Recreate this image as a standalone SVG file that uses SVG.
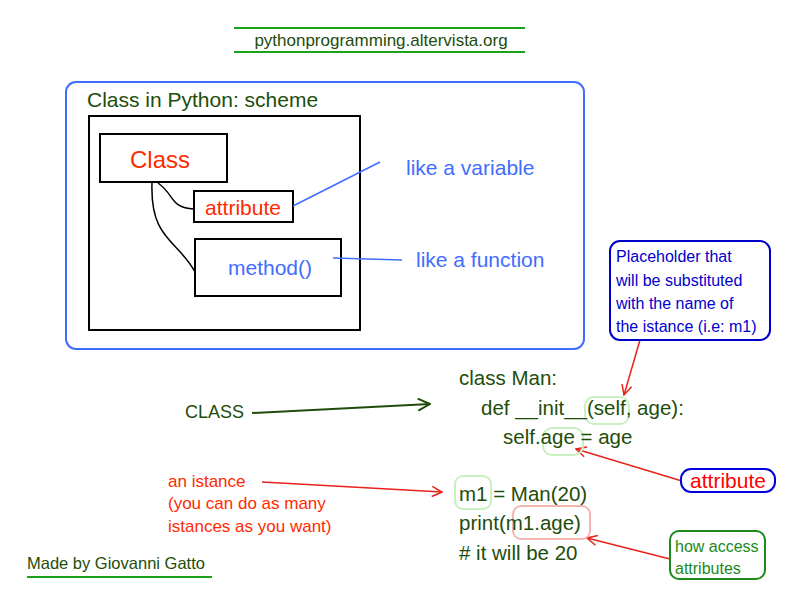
<svg xmlns="http://www.w3.org/2000/svg" width="800" height="600" viewBox="0 0 800 600">
<defs>
<style>
text{font-family:"Liberation Sans",Arial,sans-serif}
.g{fill:#1e4d0a}
.r{fill:#ff2a00}
.b{fill:#3f6dff}
.box{fill:none;stroke:#000;stroke-width:2}
.ln{fill:none;stroke:#000;stroke-width:1.5}
.bl{fill:none;stroke:#3f6dff;stroke-width:1.5}
</style>
<marker id="ar" viewBox="0 0 12 12" refX="11" refY="6" markerWidth="12" markerHeight="12" markerUnits="userSpaceOnUse" orient="auto"><path d="M1,1 L11,6 L1,11" fill="none" stroke="#e8231b" stroke-width="1.5"/></marker>
<marker id="ag" viewBox="0 0 14 14" refX="13" refY="7" markerWidth="14" markerHeight="14" markerUnits="userSpaceOnUse" orient="auto"><path d="M1,1 L13,7 L1,13" fill="none" stroke="#1e4d0a" stroke-width="2"/></marker>
</defs>
<rect width="800" height="600" fill="#fff"/>
<g id="header">
<line x1="234" y1="28" x2="525" y2="28" stroke="#1aa31a" stroke-width="2"/>
<line x1="234" y1="52" x2="525" y2="52" stroke="#1aa31a" stroke-width="2"/>
<text x="381" y="46" font-size="17" text-anchor="middle" class="g">pythonprogramming.altervista.org</text>
</g>
<g id="scheme">
<rect x="66" y="82" width="518" height="267" rx="10" fill="none" stroke="#3f6dff" stroke-width="2"/>
<text x="87" y="107" font-size="21" class="g">Class in Python: scheme</text>
<rect x="89" y="116" width="271" height="214" class="box"/>
</g>
<g id="class-node"><rect x="100" y="134" width="127" height="48" class="box"/><text x="160" y="168" font-size="24" class="r" text-anchor="middle">Class</text></g>
<g id="attribute-node"><rect x="194" y="191" width="99" height="31" class="box"/><text x="243" y="215" font-size="21" class="r" text-anchor="middle">attribute</text></g>
<g id="method-node"><rect x="195" y="239" width="146" height="57" class="box"/><text x="270" y="275" font-size="21" class="b" text-anchor="middle">method()</text></g>
<g id="connectors">
<path class="ln" d="M158,183 C175,195 170,208 194,209"/>
<path class="ln" d="M152,183 C150,240 178,240 195,272"/>
<path class="bl" d="M293,206 L380,162"/>
<path class="bl" d="M333,258 L402,260"/>
<path d="M252,413 L430,404" stroke="#1e4d0a" stroke-width="2" fill="none" marker-end="url(#ag)"/>
<path d="M640,340 L624,395" stroke="#e8231b" stroke-width="1.5" fill="none" marker-end="url(#ar)"/>
<path d="M682,481 L576,449" stroke="#e8231b" stroke-width="1.5" fill="none" marker-end="url(#ar)"/>
<path d="M262,482 L442,492" stroke="#e8231b" stroke-width="1.5" fill="none" marker-end="url(#ar)"/>
<path d="M670,559 L587,538" stroke="#e8231b" stroke-width="1.5" fill="none" marker-end="url(#ar)"/>
</g>
<g id="labels">
<text x="406" y="175" font-size="21" class="b">like a variable</text>
<text x="416" y="267" font-size="21" class="b">like a function</text>
<text x="185" y="418" font-size="18" class="g">CLASS</text>
</g>
<g id="placeholder">
<rect x="610" y="241" width="160" height="99" rx="10" fill="none" stroke="#0000cc" stroke-width="2"/>
<text font-size="16" fill="#0000cc"><tspan x="616" y="262">Placeholder that</tspan><tspan x="616" y="286">will be substituted</tspan><tspan x="616" y="309">with the name of</tspan><tspan x="616" y="332">the istance (i.e: m1)</tspan></text>
</g>
<g id="code">
<rect x="585" y="397" width="44" height="27" rx="9" fill="none" stroke="#c9f0c0" stroke-width="2"/>
<rect x="543" y="428" width="40" height="27" rx="9" fill="none" stroke="#c9f0c0" stroke-width="2"/>
<rect x="455" y="476" width="36" height="33" rx="8" fill="none" stroke="#c9f0c0" stroke-width="2"/>
<rect x="513" y="506" width="77" height="33" rx="8" fill="none" stroke="#f3b6b0" stroke-width="2"/>
<text font-size="20.5" class="g"><tspan x="459" y="385">class Man:</tspan><tspan x="481" y="415">def __init__(self, age):</tspan><tspan x="503" y="444">self.age = age</tspan><tspan x="459" y="501">m1 = Man(20)</tspan><tspan x="459" y="530">print(m1.age)</tspan><tspan x="459" y="560"># it will be 20</tspan></text>
</g>
<g id="attribute-label"><rect x="681" y="469" width="94" height="23" rx="10" fill="#fff" stroke="#0000dd" stroke-width="2"/><text x="728" y="488" font-size="21" fill="#ff0000" text-anchor="middle">attribute</text></g>
<g id="how-access"><rect x="670" y="531" width="95" height="48" rx="9" fill="none" stroke="#1a8a1a" stroke-width="2"/><text font-size="16" fill="#1a8a1a"><tspan x="675" y="552">how access</tspan><tspan x="675" y="574">attributes</tspan></text></g>
<g id="istance-note"><text font-size="17" fill="#ff2a00"><tspan x="168" y="487">an istance</tspan><tspan x="168" y="509">(you can do as many</tspan><tspan x="168" y="532">istances as you want)</tspan></text></g>
<g id="footer"><text x="27" y="569" font-size="16.5" class="g">Made by Giovanni Gatto</text><line x1="27" y1="577" x2="212" y2="577" stroke="#1aa31a" stroke-width="2"/></g>
</svg>
